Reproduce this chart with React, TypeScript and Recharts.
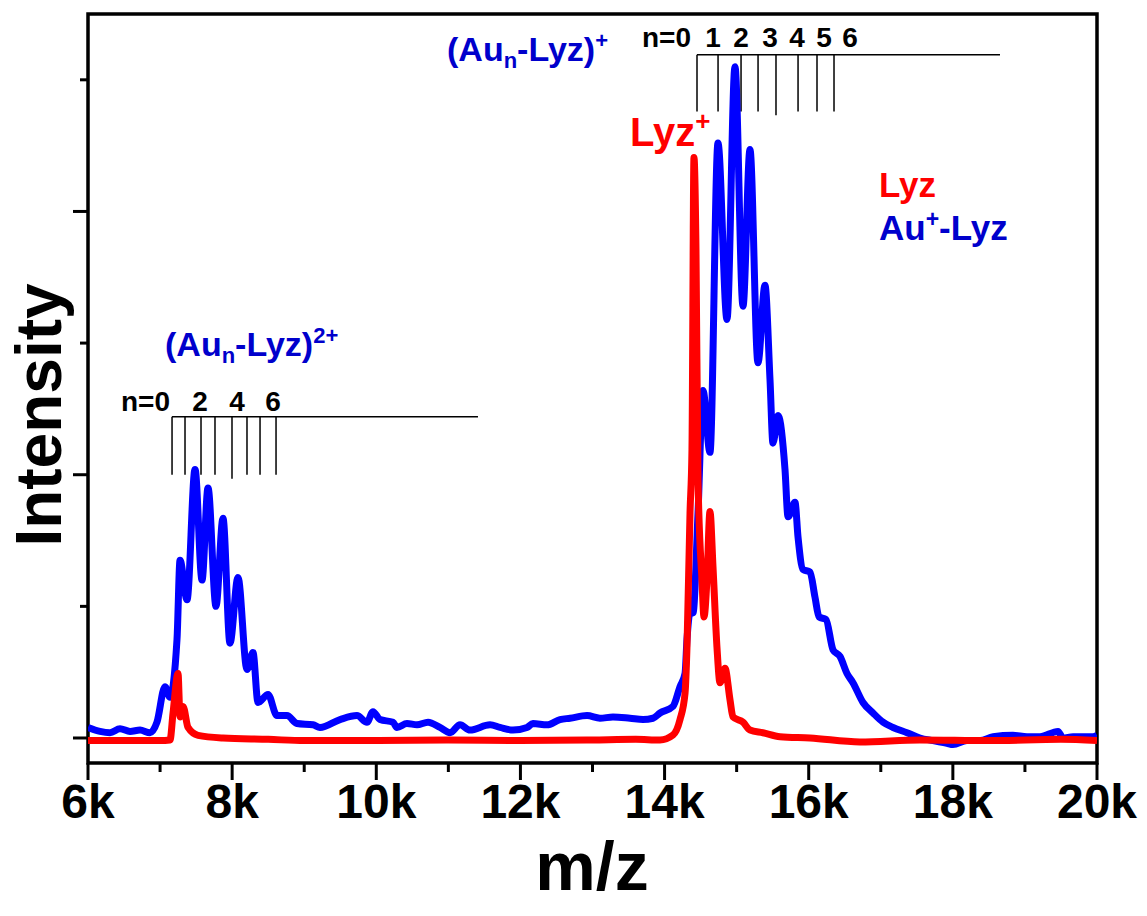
import React from 'react';
import {
  LineChart, Line, XAxis, YAxis, ReferenceArea, ReferenceLine,
} from 'recharts';

// ── Data ──────────────────────────────────────────────────────────────────────

const FONT = "'Liberation Sans', Arial, sans-serif";
const BLUE = '#0000ff';
const RED = '#ff0000';
const BLUE_TEXT = '#0000cc';

const xTicks = [6000, 7000, 8000, 9000, 10000, 11000, 12000, 13000, 14000, 15000, 16000, 17000, 18000, 19000, 20000];
const yTicks = [0, 1, 2, 3, 4, 5];

// Au+-Lyz spectrum (blue)
const blueMz = [
  6000, 6167, 6305, 6444, 6583, 6722, 6860, 6957, 7068, 7138,
  7235, 7277, 7374, 7485, 7582, 7665, 7776, 7873, 7970, 8081,
  8206, 8289, 8359, 8498, 8622, 8761, 8900, 9122, 9219, 9497,
  9732, 9871, 9954, 10052, 10232, 10287, 10426, 10565, 10718, 10884,
  11023, 11162, 11300, 11578, 11717, 11897, 12091, 12174, 12369, 12549,
  12688, 12924, 13104, 13284, 13520, 13701, 13839, 13937, 14117, 14214,
  14284, 14311, 14353, 14394, 14464, 14533, 14630, 14741, 14866, 14977,
  15088, 15185, 15296, 15393, 15463, 15504, 15574, 15671, 15713, 15810,
  15851, 15921, 16018, 16087, 16143, 16240, 16337, 16434, 16531, 16614,
  16753, 16892, 17031, 17170, 17364, 17544, 17724, 17918, 18002, 18196,
  18377, 18557, 18834, 19029, 19209, 19459, 19528, 19667, 19944, 20000,
];
const blueInt = [
  0.08, 0.05, 0.04, 0.07, 0.05, 0.06, 0.04, 0.12, 0.39, 0.31,
  0.75, 1.35, 1.05, 2.04, 1.2, 1.9, 1.0, 1.67, 0.72, 1.22,
  0.52, 0.65, 0.27, 0.33, 0.17, 0.17, 0.11, 0.1, 0.08, 0.14,
  0.17, 0.12, 0.2, 0.14, 0.12, 0.08, 0.11, 0.1, 0.12, 0.08,
  0.04, 0.1, 0.06, 0.1, 0.08, 0.06, 0.08, 0.11, 0.1, 0.14,
  0.15, 0.17, 0.15, 0.16, 0.15, 0.14, 0.15, 0.19, 0.24, 0.39,
  0.49, 0.75, 0.95, 0.95, 1.71, 2.64, 2.17, 4.52, 3.18, 5.1,
  3.28, 4.47, 2.85, 3.44, 2.72, 2.24, 2.45, 2.04, 1.68, 1.79,
  1.53, 1.28, 1.26, 1.07, 0.92, 0.9, 0.67, 0.62, 0.49, 0.42,
  0.27, 0.19, 0.12, 0.08, 0.04, 0.0, -0.02, -0.04, -0.05, -0.02,
  -0.02, 0.01, 0.02, 0.01, 0.01, 0.05, 0.0, 0.01, 0.01, 0.02,
];

// Lyz spectrum (red)
const redMz = [
  6000, 6500, 7000, 7138, 7180, 7249, 7277, 7319, 7388, 7527,
  7873, 8500, 9000, 10000, 11000, 12000, 13000, 13600, 13937, 14117,
  14214, 14284, 14311, 14353, 14380, 14408, 14436, 14464, 14519, 14547,
  14588, 14630, 14672, 14727, 14769, 14838, 14908, 14949, 15088, 15185,
  15365, 15602, 16018, 16711, 17544, 18500, 19500, 20000,
];
const redInt = [
  -0.02, -0.02, -0.02, -0.015, 0.19, 0.49, 0.16, 0.24, 0.08, 0.02,
  0.0, -0.01, -0.02, -0.02, -0.015, -0.02, -0.015, -0.01, -0.015, 0.023,
  0.14, 0.34, 0.69, 1.71, 2.19, 4.41, 3.71, 1.96, 1.2, 0.92,
  1.2, 1.72, 1.3, 0.69, 0.42, 0.53, 0.29, 0.16, 0.12, 0.06,
  0.04, 0.01, 0.0, -0.03, -0.015, -0.02, -0.01, -0.02,
];

// n-assignment combs
const combTopMz = [14450, 14742, 15061, 15297, 15546, 15852, 16115, 16351];
const combTopEnd = 18654;
const combTopY = 5.19;
const combTopLow = [4.76, 4.76, 4.76, 4.76, 4.73, 4.76, 4.76, 4.76];

const combLowMz = [7166, 7346, 7568, 7762, 7998, 8206, 8387, 8609];
const combLowEnd = 11411;
const combLowY = 2.44;
const combLowLow = [2.0, 2.0, 2.0, 2.0, 1.97, 2.0, 2.0, 2.0];

const blueData = blueMz.map((mz, i) => ({ mz, v: blueInt[i] }));
const redData = redMz.map((mz, i) => ({ mz, v: redInt[i] }));

// ── Ticks ─────────────────────────────────────────────────────────────────────

function XTick(props: any) {
  const { x, y, payload } = props;
  const major = payload.value % 2000 === 0;
  return (
    <g>
      <line x1={x} x2={x} y1={y} y2={y + (major ? 17 : 9)} stroke="#000" strokeWidth={3} />
      {major && (
        <text x={x} y={y + 55} textAnchor="middle" fontSize={48} fontWeight="bold" fontFamily={FONT} fill="#000">
          {payload.value / 1000}k
        </text>
      )}
    </g>
  );
}

function YTick(props: any) {
  const { x, y, payload } = props;
  const major = payload.value % 2 === 0;
  return <line x1={x} x2={x - (major ? 15 : 8)} y1={y} y2={y} stroke="#000" strokeWidth={3} />;
}

// ── Chart ─────────────────────────────────────────────────────────────────────

export default function App() {
  return (
    <div style={{ position: 'absolute', left: 0, top: 0, width: 1147, height: 916, background: '#fff' }}>
      <LineChart width={1147} height={916} data={blueData} margin={{ top: 14, right: 50, bottom: 93, left: 48 }}>
        <XAxis
          type="number"
          dataKey="mz"
          domain={[6000, 20000]}
          ticks={xTicks}
          allowDataOverflow
          height={60}
          axisLine={false}
          tickLine={false}
          tickSize={0}
          tickMargin={0}
          tick={<XTick />}
          interval={0}
        />
        <YAxis
          type="number"
          domain={[-0.19, 5.5]}
          ticks={yTicks}
          allowDataOverflow
          width={40}
          axisLine={false}
          tickLine={false}
          tickSize={0}
          tickMargin={0}
          tick={<YTick />}
          interval={0}
        />
        <ReferenceArea x1={6000} x2={20000} y1={-0.19} y2={5.5} fill="none" stroke="#000" strokeWidth={3.5} />

        <ReferenceLine segment={[{ x: combTopMz[0], y: combTopY }, { x: combTopEnd, y: combTopY }]} stroke="#000" strokeWidth={1.5} ifOverflow="visible" />
        {combTopMz.map((mz, i) => (
          <ReferenceLine key={'t' + i} segment={[{ x: mz, y: combTopY }, { x: mz, y: combTopLow[i] }]} stroke="#000" strokeWidth={1.5} ifOverflow="visible" />
        ))}
        <ReferenceLine segment={[{ x: combLowMz[0], y: combLowY }, { x: combLowEnd, y: combLowY }]} stroke="#000" strokeWidth={1.5} ifOverflow="visible" />
        {combLowMz.map((mz, i) => (
          <ReferenceLine key={'l' + i} segment={[{ x: mz, y: combLowY }, { x: mz, y: combLowLow[i] }]} stroke="#000" strokeWidth={1.5} ifOverflow="visible" />
        ))}

        <Line
          data={blueData}
          dataKey="v"
          type="monotone"
          stroke={BLUE}
          strokeWidth={7}
          strokeLinejoin="round"
          dot={false}
          activeDot={false}
          isAnimationActive={false}
        />
        <Line
          data={redData}
          dataKey="v"
          type="monotone"
          stroke={RED}
          strokeWidth={7}
          strokeLinejoin="round"
          dot={false}
          activeDot={false}
          isAnimationActive={false}
        />
      </LineChart>

      <svg width={1147} height={916} style={{ position: 'absolute', left: 0, top: 0, pointerEvents: 'none' }} fontFamily={FONT} fontWeight="bold">
        <text transform="translate(61,415) rotate(-90)" textAnchor="middle" fontSize={64} fill="#000">Intensity</text>
        <text x={592} y={890} textAnchor="middle" fontSize={68} fill="#000">m/z</text>

        <text x={447} y={61} fontSize={34} fill={BLUE_TEXT}>
          (Au<tspan fontSize={22} dy={7}>n</tspan><tspan dy={-7}>-Lyz)</tspan><tspan fontSize={22} dy={-13}>+</tspan>
        </text>
        <text x={165} y={356} fontSize={34} fill={BLUE_TEXT}>
          (Au<tspan fontSize={22} dy={7}>n</tspan><tspan dy={-7}>-Lyz)</tspan><tspan fontSize={22} dy={-13}>2+</tspan>
        </text>

        <text x={642} y={47} fontSize={28} fill="#000">n=0</text>
        <text x={713} y={47} fontSize={28} fill="#000" textAnchor="middle">1</text>
        <text x={741} y={47} fontSize={28} fill="#000" textAnchor="middle">2</text>
        <text x={770} y={47} fontSize={28} fill="#000" textAnchor="middle">3</text>
        <text x={797} y={47} fontSize={28} fill="#000" textAnchor="middle">4</text>
        <text x={824} y={47} fontSize={28} fill="#000" textAnchor="middle">5</text>
        <text x={850} y={47} fontSize={28} fill="#000" textAnchor="middle">6</text>

        <text x={121} y={411} fontSize={28} fill="#000">n=0</text>
        <text x={200} y={411} fontSize={28} fill="#000" textAnchor="middle">2</text>
        <text x={237} y={411} fontSize={28} fill="#000" textAnchor="middle">4</text>
        <text x={273} y={411} fontSize={28} fill="#000" textAnchor="middle">6</text>

        <text x={630} y={146} fontSize={40} fill={RED}>
          Lyz<tspan fontSize={26} dy={-16}>+</tspan>
        </text>

        <text x={879} y={197} fontSize={35} fill={RED}>Lyz</text>
        <text x={879} y={240} fontSize={35} fill={BLUE_TEXT}>
          Au<tspan fontSize={23} dy={-13}>+</tspan><tspan dy={13}>-Lyz</tspan>
        </text>
      </svg>
    </div>
  );
}
